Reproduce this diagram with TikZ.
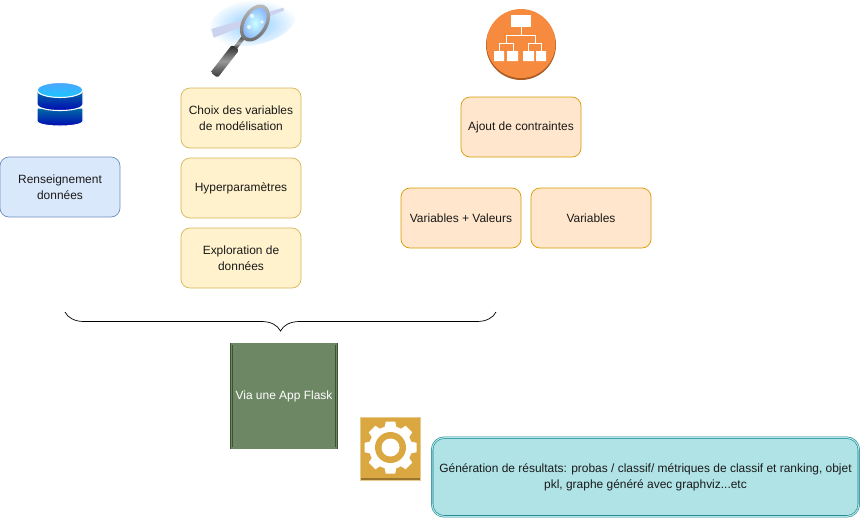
\documentclass[tikz,border=0pt]{standalone}
\usepackage{fontspec}
\setmainfont{Liberation Sans}
\definecolor{bleufill}{HTML}{DAE8FC}
\definecolor{bleudraw}{HTML}{6C8EBF}
\definecolor{jaunefill}{HTML}{FFF2CC}
\definecolor{jaunedraw}{HTML}{D6B656}
\definecolor{orangefill}{HTML}{FFE6CC}
\definecolor{orangedraw}{HTML}{D79B00}
\definecolor{vertfill}{HTML}{6D8764}
\definecolor{vertdraw}{HTML}{3A5431}
\definecolor{tealfill}{HTML}{B0E3E6}
\definecolor{tealdraw}{HTML}{0E8088}
\definecolor{gearfill}{HTML}{DBA741}
\definecolor{orgfill}{HTML}{F58536}
\usetikzlibrary{decorations.pathreplacing}

\begin{document}
\begin{tikzpicture}[
        x=0.03cm, y=-0.03cm,
        every node/.style={font=\fontsize{10.2}{13.6}\selectfont, text=black!90},
        box/.style={draw, rounded corners=0.27cm, line width=0.6pt, minimum width=3.6cm, minimum height=1.8cm, align=center},
        databox/.style={box, draw=bleudraw, fill=bleufill},
        choixbox/.style={box, draw=jaunedraw, fill=jaunefill},
        ajoutbox/.style={box, draw=orangedraw, fill=orangefill},
        layer/.style={draw=white, line width=0.9pt, top color=blue!55!cyan!70!black, bottom color=blue!75!black}
      ]
        \useasboundingbox (0,0) rectangle (861,518);
        % database icon
        \draw[draw=white, line width=0.9pt, top color=blue!70!black, bottom color=blue!35!cyan!65!black, shading angle=180]
          (37,108) -- (37,121) .. controls (37,127.7) and (83,127.7) .. (83,121) -- (83,108) -- cycle;
        \draw[draw=white, line width=0.9pt, top color=blue!70!black, bottom color=blue!35!cyan!65!black, shading angle=180]
          (37,90) -- (37,104) .. controls (37,112.7) and (83,112.7) .. (83,104) -- (83,90) -- cycle;
        \draw[draw=white, line width=0.9pt, top color=cyan!50!blue!70, bottom color=cyan!75!blue!90] (60,90) ellipse [x radius=23, y radius=7.5];
        % magnifier icon
        \shade[shift={(253,22)}, rotate=12, inner color=cyan!55!blue!45, outer color=white] (0,0) ellipse [x radius=44, y radius=23];
        \fill[cyan!40!blue!20, shift={(253,22)}, rotate=15] (-42,-4) -- (33,-6) -- (33,-3) -- (-42,5) -- cycle;
        \shade[shift={(243,38)}, rotate=-128, top color=black!70, bottom color=black!85, middle color=black!35] (0,-2) rectangle (13,2);
        \shade[shift={(243,38)}, rotate=-128, top color=black!85, bottom color=black!80, middle color=black!40, rounded corners=1.5] (12,-4.5) rectangle (47,4.5);
        \shade[shift={(255,23)}, rotate=60, top color=black!25, bottom color=black!60] (0,0) ellipse [x radius=20, y radius=13];
        \shade[shift={(255,23)}, rotate=60, inner color=white!80!cyan, outer color=cyan!40!blue!45] (0,0) ellipse [x radius=16.5, y radius=9.5];
        \fill[white!90!cyan] (252,16) circle (2.2) (262,22) circle (1.8) (249,27) circle (2);
        % org chart icon
        \fill[orgfill!70!black] (521,45) circle (35);
        \fill[orgfill!95!white] (521,43.5) circle (34.5);
        \fill[white] (511,15) rectangle (531,27);
        \draw[white, line width=0.8pt] (521,27) -- (521,35) (506,43) -- (506,35) -- (535,35) -- (535,43)
          (499,51) -- (499,43) -- (513,43) -- (513,51) (528,51) -- (528,43) -- (541,43) -- (541,51);
        \fill[white] (494,51) rectangle (504,61) (507,51) rectangle (518,61) (523,51) rectangle (534,61) (536,51) rectangle (546,61);
        % gear icon
        \fill[gearfill!60!white] (360,417) rectangle (421,481);
        \fill[gearfill] (361,418) rectangle (420,478);
        \fill[gearfill!70!black] (361,478) rectangle (420,480);
        \foreach \ang in {0,45,...,315}
          \fill[white, shift={(390.5,447.5)}, rotate=\ang] (-6,20) -- (-4.7,26) -- (4.7,26) -- (6,20) -- cycle;
        \fill[white] (390.5,447.5) circle (21.5);
        \fill[gearfill] (390.5,447.5) circle (15.5);
        \fill[white] (390.5,447.5) circle (9);

        \node[databox] (data) at (60,187) {Renseignement\\données};
        \node[choixbox] (choix) at (241,118) {Choix des variables\\de modélisation};
        \node[choixbox] (hyper) at (241,188) {Hyperparamètres};
        \node[choixbox] (explo) at (241,258) {Exploration de\\données};
        \node[ajoutbox] (ajout) at (521,127) {Ajout de contraintes};
        \node[ajoutbox] (varval) at (461,218) {Variables + Valeurs};
        \node[ajoutbox] (vars) at (591,218) {Variables};
        \node[draw=vertdraw, fill=vertfill, double=vertfill, line width=0.5pt, double distance=1.3pt, minimum width=3.12cm, minimum height=3.12cm, text=white] (flask) at (284,396) {Via une App Flask};
        \node[draw=tealdraw, fill=tealfill, double=tealfill, line width=0.45pt, double distance=1pt, rounded corners=0.36cm, minimum width=12.8cm, minimum height=2.36cm, align=center] (resultats) at (645.5,477) {Génération de résultats: probas / classif/ métriques de classif et ranking, objet\\pkl, graphe généré avec graphviz...etc};

        \coordinate (bracel) at (65,312);
        \coordinate (bracer) at (496,312);
        \draw[line width=0.6pt, decorate, decoration={brace, mirror, amplitude=0.57cm}] (bracel) -- (bracer);
      \end{tikzpicture}
\end{document}
